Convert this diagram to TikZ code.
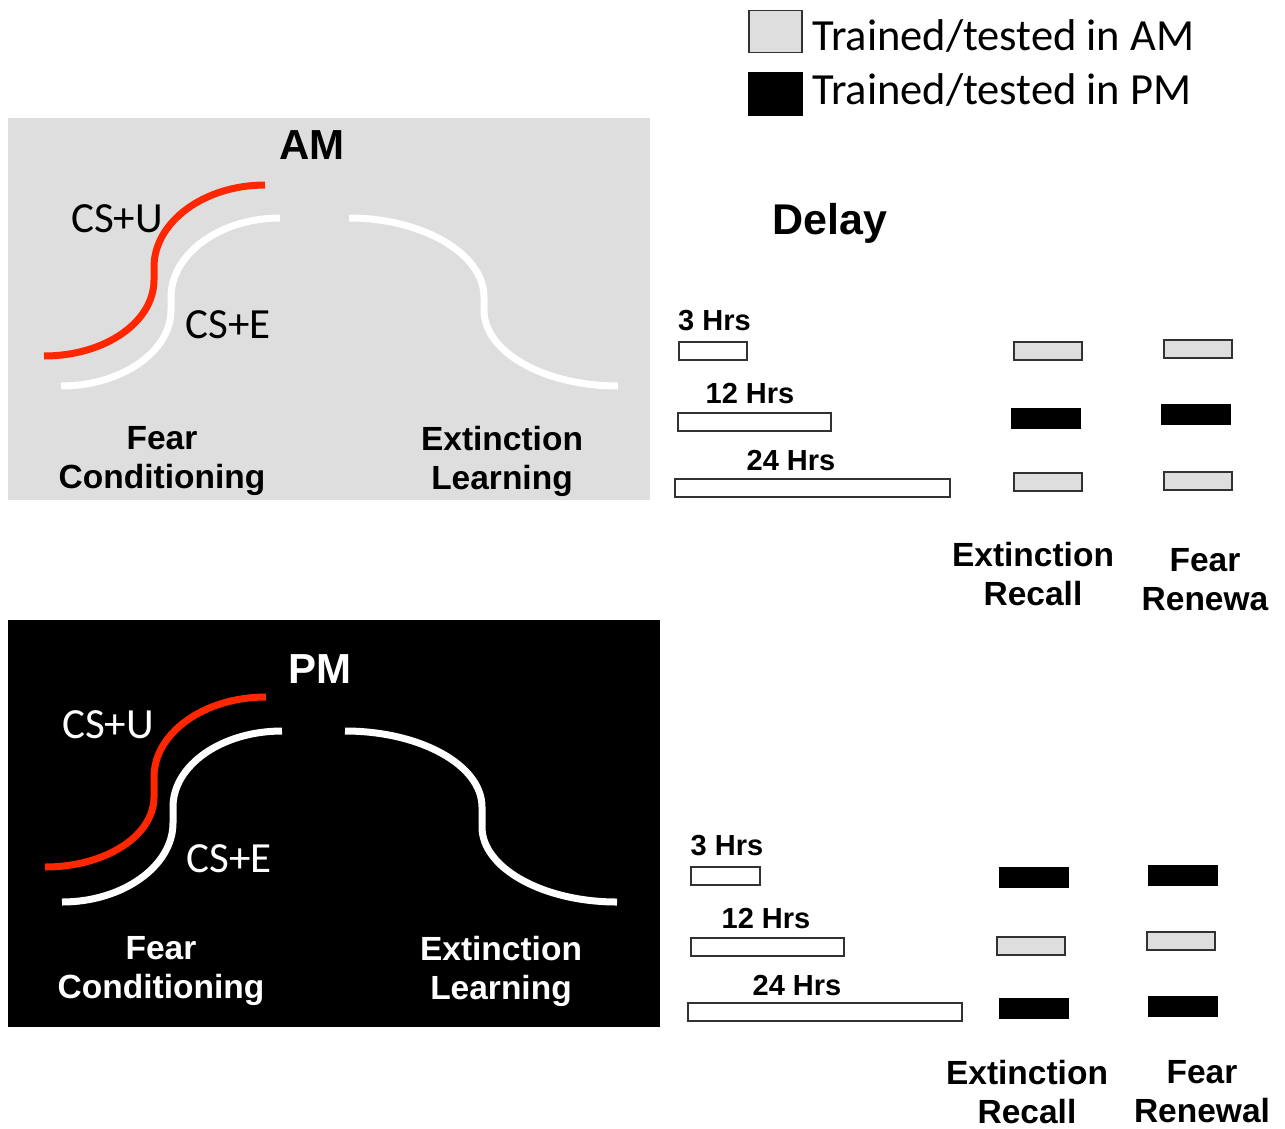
\documentclass[tikz,border=0pt]{standalone}
\usepackage{fontspec}
\setmainfont{Liberation Sans}
\newfontfamily\calibri{Carlito}
\usepackage{tikz}
\usetikzlibrary{positioning}
\definecolor{amgray}{RGB}{222,222,222}
\definecolor{csured}{RGB}{255,38,0}
\definecolor{barline}{RGB}{50,50,50}
\tikzset{
  curveline/.style={line width=7pt,line cap=butt},
  delaybar/.style={draw=barline,fill=white,line width=2pt,minimum height=18,inner sep=0pt},
  ambar/.style={draw=barline,fill=amgray,line width=2pt,minimum width=68,minimum height=18,inner sep=0pt},
  pmbar/.style={draw=black,fill=black,line width=1pt,minimum width=69,minimum height=20,inner sep=0pt},
  keybox/.style={draw=barline,line width=1.8pt,minimum width=53,minimum height=42,inner sep=0pt},
  keytext/.style={font=\calibri\fontsize{44.5}{52}\selectfont,anchor=base west,inner sep=0pt},
  cslabel/.style={font=\calibri\fontsize{43}{50}\selectfont,anchor=base,inner sep=0pt},
  sessionlabel/.style={font=\fontsize{42}{50}\selectfont\bfseries,anchor=base,inner sep=0pt},
  stagelabel/.style={font=\fontsize{33.5}{39}\selectfont\bfseries,align=center,inner sep=0pt},
  hrslabel/.style={font=\fontsize{29}{34}\selectfont\bfseries,anchor=base,inner sep=0pt}
}
\begin{document}
\begin{tikzpicture}[x=1pt,y=-1pt]
  \useasboundingbox[fill=white] (0,0) rectangle (1285,1128);

  % legend
  \node[keybox,fill=amgray] (amkey) at (775.5,31.5) {};
  \node[keybox,fill=black,draw=black] (pmkey) at (775.5,94) {};
  \node[keytext] (amkeytext) at (812,50) {Trained/tested in AM};
  \node[keytext] (pmkeytext) at (812,104) {Trained/tested in PM};

  % AM panel
  \fill[amgray] (8,118) rectangle (650,500);
  \node[sessionlabel] (amtitle) at (312,159) {AM};
  \draw[curveline,draw=csured] (44,356) .. controls (105,356) and (154,322) .. (154,280)
    -- (154,267) .. controls (154,222) and (204,185) .. (265,185);
  \draw[curveline,draw=white] (61,386) .. controls (121,386) and (171,352) .. (171,310)
    -- (171,297) .. controls (171,254) and (220,218) .. (280,218);
  \draw[curveline,draw=white] (349,218) .. controls (423,218) and (484,254) .. (484,297)
    -- (484,310) .. controls (484,352) and (544,386) .. (618,386);
  \node[cslabel] (amcsu) at (117,232) {CS+U};
  \node[cslabel] (amcse) at (228,338) {CS+E};
  \node[stagelabel] (amfear) at (162,461) {Fear\\Conditioning};
  \node[stagelabel] (amext) at (502,461) {Extinction\\Learning};

  % PM panel
  \fill[black] (8,620) rectangle (660,1027);
  \node[sessionlabel,text=white] (pmtitle) at (320,683) {PM};
  \draw[curveline,draw=csured] (45,867) .. controls (105,867) and (154,836) .. (154,797)
    -- (154,777) .. controls (154,733) and (204,697) .. (266,697);
  \draw[curveline,draw=white] (62,902) .. controls (123,902) and (173,866) .. (173,823)
    -- (173,807) .. controls (173,765) and (222,731) .. (282,731);
  \draw[curveline,draw=white] (345,731) .. controls (420,731) and (482,765) .. (482,807)
    -- (482,827) .. controls (482,868) and (543,902) .. (617,902);
  \node[cslabel,text=white] (pmcsu) at (108,738) {CS+U};
  \node[cslabel,text=white] (pmcse) at (229,872) {CS+E};
  \node[stagelabel,text=white] (pmfear) at (161,971) {Fear\\Conditioning};
  \node[stagelabel,text=white] (pmext) at (501,971) {Extinction\\Learning};

  % delays, AM
  \node[sessionlabel,font=\fontsize{43}{50}\selectfont\bfseries] (delay) at (830,234) {Delay};
  \node[hrslabel] (amthreetext) at (714.5,330) {3 Hrs};
  \node[delaybar,minimum width=68] (amthree) at (713,351) {};
  \node[hrslabel] (amtwelvetext) at (750,403) {12 Hrs};
  \node[delaybar,minimum width=153] (amtwelve) at (754.5,422) {};
  \node[hrslabel] (amdaytext) at (791,470) {24 Hrs};
  \node[delaybar,minimum width=275] (amday) at (812.5,488) {};

  \node[ambar] (amrecallone) at (1048,351) {};
  \node[pmbar] (amrecalltwo) at (1046,418.5) {};
  \node[ambar] (amrecallthree) at (1048,482) {};
  \node[ambar] (amrenewone) at (1197.5,348.5) {};
  \node[pmbar] (amrenewtwo) at (1195.5,414.5) {};
  \node[ambar] (amrenewthree) at (1197.5,480.5) {};
  \node[stagelabel] (amrecall) at (1033,574) {Extinction\\Recall};
  \node[stagelabel] (amrenew) at (1205,580) {Fear\\Renewa};

  % delays, PM
  \node[hrslabel] (pmthreetext) at (727,855) {3 Hrs};
  \node[delaybar,minimum width=69] (pmthree) at (725.5,875.5) {};
  \node[hrslabel] (pmtwelvetext) at (766,928) {12 Hrs};
  \node[delaybar,minimum width=153] (pmtwelve) at (767.5,947) {};
  \node[hrslabel] (pmdaytext) at (797,995) {24 Hrs};
  \node[delaybar,minimum width=274] (pmday) at (825,1012) {};

  \node[pmbar] (pmrecallone) at (1033.5,877.5) {};
  \node[ambar] (pmrecalltwo) at (1031,945.5) {};
  \node[pmbar] (pmrecallthree) at (1033.5,1008.5) {};
  \node[pmbar] (pmrenewone) at (1183,875) {};
  \node[ambar] (pmrenewtwo) at (1180.5,941) {};
  \node[pmbar] (pmrenewthree) at (1183,1006.5) {};
  \node[stagelabel] (pmrecall) at (1027,1092) {Extinction\\Recall};
  \node[stagelabel] (pmrenew) at (1202,1092) {Fear\\Renewal};
\end{tikzpicture}
\end{document}
